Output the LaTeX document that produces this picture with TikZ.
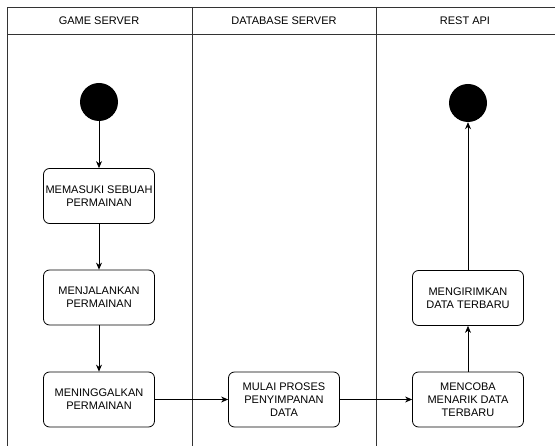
\documentclass[tikz,border=0pt]{standalone}
\usepackage{fontspec}
\setmainfont{Liberation Sans}
\usetikzlibrary{positioning,arrows.meta}

\begin{document}
\begin{tikzpicture}[x=1pt,y=-1pt,
  lane/.style={draw=black!80,line width=0.9pt},
  act/.style={draw,rounded corners=6pt,line width=0.8pt,minimum width=111pt,minimum height=55pt,align=center,font=\fontsize{11}{13}\selectfont,inner sep=1pt},
  dot/.style={circle,fill=black,minimum size=38pt,inner sep=0pt},
  hdr/.style={font=\fontsize{11}{13}\selectfont},
  flow/.style={-{Stealth[length=7pt,width=6pt]},line width=0.8pt}]
  \useasboundingbox (0,0) rectangle (555,446);
  % swimlanes
  \draw[lane] (7,446) -- (7,7) -- (555,7);
  \draw[lane] (7,34) -- (555,34);
  \draw[lane] (192,7) -- (192,446);
  \draw[lane] (376,7) -- (376,446);
  \node[hdr] (h1) at (99,20.5) {GAME SERVER};
  \node[hdr] (h2) at (284,20.5) {DATABASE SERVER};
  \node[hdr] (h3) at (465,20.5) {REST API};
  % nodes
  \node[dot] (start) at (99,102) {};
  \node[act] (masuk) at (99,196) {MEMASUKI SEBUAH\\PERMAINAN};
  \node[act] (jalan) at (99,297.5) {MENJALANKAN\\PERMAINAN};
  \node[act] (tinggal) at (99,399.5) {MENINGGALKAN\\PERMAINAN};
  \node[act] (simpan) at (284,399.5) {MULAI PROSES\\PENYIMPANAN\\DATA};
  \node[act] (tarik) at (468,399.5) {MENCOBA\\MENARIK DATA\\TERBARU};
  \node[act] (kirim) at (468,298) {MENGIRIMKAN\\DATA TERBARU};
  \node[dot] (stop) at (468,103) {};
  % connectors
  \draw[flow] (start) -- (masuk);
  \draw[flow] (masuk) -- (jalan);
  \draw[flow] (jalan) -- (tinggal);
  \draw[flow] (tinggal) -- (simpan);
  \draw[flow] (simpan) -- (tarik);
  \draw[flow] (tarik) -- (kirim);
  \draw[flow] (kirim) -- (stop);
\end{tikzpicture}
\end{document}
